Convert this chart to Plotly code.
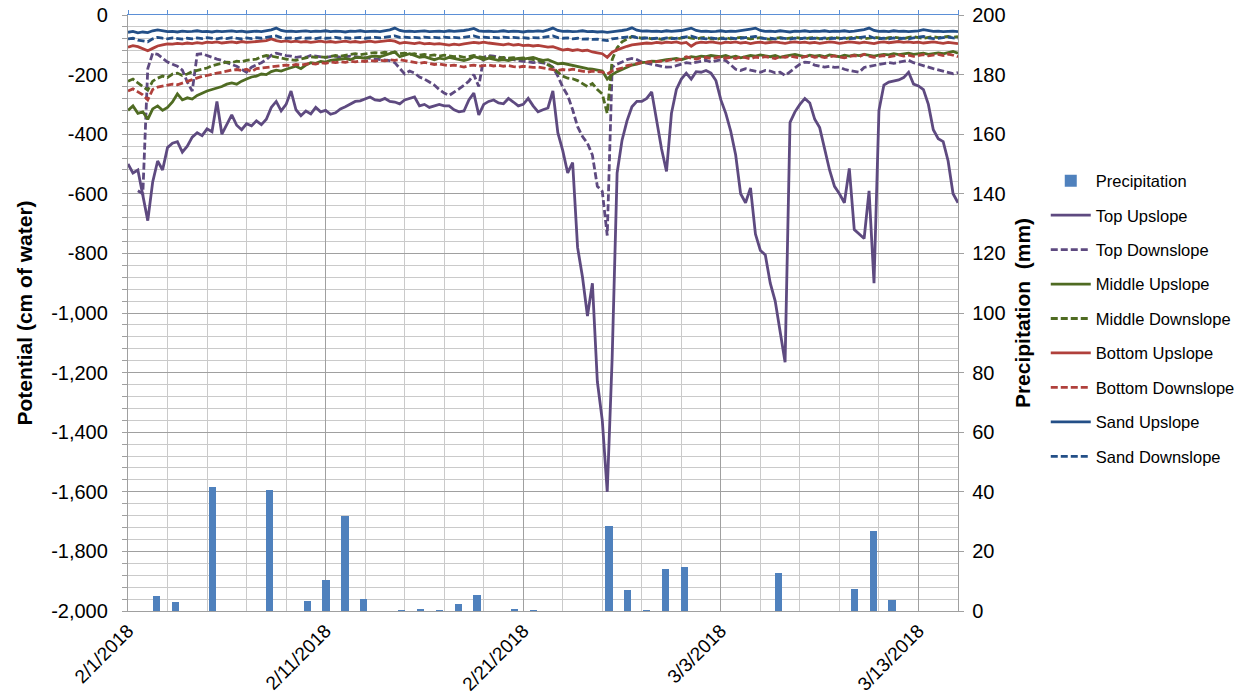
import pandas as pd
import plotly.graph_objects as go

# ---------------------------------------------------------------------------
# Soil water potential (cm of water), logged every 6 hours from 2/1/2018
# ---------------------------------------------------------------------------
times = pd.date_range("2018-02-01 00:00", periods=169, freq="6h")

top_upslope = [
    -500, -530, -520, -610, -690, -560, -490, -520, -445, -430,
    -425, -460, -440, -410, -395, -405, -382, -392, -290, -400,
    -365, -335, -370, -385, -365, -372, -355, -368, -350, -310,
    -290, -322, -300, -255, -318, -338, -322, -332, -310, -325,
    -320, -333, -328, -315, -308, -298, -290, -288, -282, -275,
    -285, -287, -280, -290, -292, -298, -285, -280, -275, -305,
    -300, -310, -306, -300, -305, -305, -318, -325, -322, -285,
    -262, -335, -300, -290, -285, -295, -298, -280, -292, -305,
    -300, -280, -305, -325, -318, -312, -255, -395, -455, -530,
    -495, -780, -880, -1010, -900, -1230, -1360, -1600, -1150, -530,
    -420, -355, -308, -290, -290, -280, -258, -350, -450, -525,
    -330, -250, -215, -195, -215, -190, -192, -186, -195, -220,
    -285, -330, -390, -470, -600, -630, -580, -735, -790, -805,
    -900, -960, -1060, -1165, -360, -325, -300, -280, -295, -350,
    -378, -450, -520, -575, -600, -630, -515, -720, -735, -750,
    -590, -900, -320, -235, -225, -222, -218, -210, -192, -232,
    -238, -250, -300, -385, -415, -425, -490, -600, -630,
]

top_downslope = [
    None, None, -590, -600, -180, -128, -132, -145, -158, -165,
    -172, -185, -225, -255, -132, -130, -135, -142, -148, -152,
    -160, -166, -172, -182, -192, -175, -168, -160, -150, -135,
    -128, -133, -136, -138, -142, -140, -142, -136, -138, -140,
    -142, -140, -138, -142, -140, -138, -140, -142, -144, -145,
    -146, -148, -150, -153, -160, -180, -198, -188, -195, -208,
    -215, -225, -235, -250, -262, -270, -260, -248, -236, -222,
    -200, -240, -142, -136, -138, -142, -145, -148, -150, -152,
    -155, -158, -160, -158, -160, -164, -175, -205, -242, -270,
    -318, -375, -408, -430, -470, -575, -592, -740, -175, -165,
    -158, -150, -146, -150, -158, -162, -166, -170, -172, -175,
    -174, -170, -165, -160, -162, -158, -155, -152, -158, -155,
    -150, -153, -168, -182, -186, -180, -185, -188, -192, -186,
    -188, -194, -192, -203, -190, -175, -165, -158, -160, -168,
    -172, -175, -172, -176, -175, -182, -186, -190, -192, -176,
    -172, -169, -166, -163, -160, -162, -158, -155, -152, -160,
    -165, -172, -176, -180, -184, -188, -192, -197, -193,
]

middle_upslope = [
    -320, -305, -330, -325, -350, -315, -305, -320, -310, -292,
    -265, -285, -278, -282, -270, -262, -255, -250, -245, -240,
    -232, -228, -232, -222, -215, -208, -205, -198, -200, -190,
    -185, -188, -182, -176, -172, -180, -168, -160, -162, -156,
    -158, -152, -150, -148, -146, -150, -143, -142, -145, -140,
    -138, -140, -134, -128, -124, -140, -136, -130, -136, -142,
    -140, -146, -150, -145, -148, -142, -146, -150, -153, -148,
    -140, -144, -150, -145, -148, -152, -150, -153, -148, -146,
    -148, -145, -142, -148, -152, -150, -158, -164, -162, -166,
    -170, -172, -178, -180, -182, -185, -188, -215, -200, -190,
    -182, -175, -168, -165, -160, -158, -155, -156, -152, -150,
    -148, -146, -150, -144, -140, -142, -138, -140, -136, -138,
    -140, -136, -142, -138, -144, -140, -136, -138, -134, -137,
    -140, -136, -142, -138, -134, -132, -136, -140, -135, -138,
    -136, -140, -134, -137, -140, -135, -138, -134, -136, -132,
    -134, -138, -135, -132, -134, -130, -133, -130, -128, -132,
    -130, -128, -132, -130, -127, -130, -126, -122, -128,
]

middle_downslope = [
    -222, -215, -228, -240, -252, -222, -212, -205, -210, -198,
    -195, -203, -198, -190, -186, -182, -178, -170, -165, -162,
    -158, -160, -155, -157, -152, -150, -148, -140, -136, -138,
    -142, -145, -148, -150, -152, -148, -145, -140, -142, -140,
    -142, -138, -136, -138, -135, -132, -130, -133, -130, -128,
    -126, -128, -125, -127, -125, -130, -128, -132, -130, -135,
    -132, -136, -134, -138, -135, -137, -140, -138, -142, -140,
    -136, -140, -143, -140, -142, -145, -142, -145, -143, -146,
    -144, -147, -148, -152, -158, -168, -176, -192, -205, -212,
    -214, -220, -230, -240, -230, -250, -265, -330, -150, -110,
    -90, -80, -72, -75, -78, -76, -80, -78, -82, -79,
    -77, -80, -76, -74, -78, -80, -77, -75, -79, -82,
    -78, -76, -80, -77, -75, -78, -80, -78, -76, -79,
    -82, -78, -76, -80, -78, -75, -78, -80, -77, -76,
    -79, -81, -78, -75, -78, -80, -77, -74, -76, -80,
    -78, -75, -77, -80, -76, -74, -77, -79, -75, -73,
    -76, -78, -75, -73, -76, -74, -72, -75, -73,
]

bottom_upslope = [
    -108, -103, -106, -112, -120, -112, -104, -100, -97, -98,
    -95, -97, -94, -96, -93, -95, -91, -93, -90, -94,
    -92, -90, -93, -89, -92, -90, -88, -87, -86, -80,
    -86, -89, -87, -90, -88, -91, -89, -92, -90, -88,
    -91, -89, -92, -90, -88, -91, -89, -92, -90, -88,
    -91, -89, -87, -85, -88, -95, -92, -94, -96, -93,
    -97, -95, -98, -96, -99, -101, -98, -100, -97, -95,
    -92, -94, -91, -94, -96, -98, -100, -97, -101, -99,
    -103, -101, -104, -102, -105, -108, -106, -112, -118, -115,
    -119, -116, -120, -118, -124, -127, -130, -142, -125, -117,
    -110, -105, -100, -98, -96, -94, -95, -92, -94, -91,
    -93, -90, -95, -92, -105, -94, -91, -93, -90, -92,
    -95, -91, -93, -90, -94, -92, -96, -93, -91, -94,
    -92, -90, -93, -95, -92, -90, -93, -91, -94, -92,
    -95, -93, -90, -92, -95, -93, -90, -92, -94, -91,
    -93, -96, -92, -90, -93, -91, -89, -92, -90, -93,
    -91, -94, -92, -90, -93, -95, -92, -94, -96,
]

bottom_downslope = [
    -255, -248, -258, -268, -285, -250, -242, -238, -236, -232,
    -234, -228, -222, -218, -210, -206, -203, -198, -195, -192,
    -188, -185, -183, -186, -182, -190, -180, -178, -175, -173,
    -172, -170, -168, -170, -166, -168, -164, -162, -165, -160,
    -162, -158, -160, -157, -159, -155, -157, -154, -156, -153,
    -155, -152, -154, -150, -152, -150, -153, -156, -160, -162,
    -159, -163, -166, -164, -167, -170, -168, -172, -175, -170,
    -168, -172, -170, -168, -171, -169, -172, -170, -173, -175,
    -172, -174, -176, -175, -178, -180, -182, -186, -183, -185,
    -182, -186, -190, -192, -188, -190, -192, -198, -188, -182,
    -178, -170, -166, -162, -160, -158, -157, -155, -153, -154,
    -150, -152, -148, -140, -145, -148, -144, -142, -146, -143,
    -140, -145, -142, -146, -140, -143, -147, -141, -144, -140,
    -143, -146, -140, -142, -138, -141, -144, -140, -137, -142,
    -139, -143, -140, -137, -141, -144, -139, -136, -140, -132,
    -138, -142, -139, -136, -140, -137, -134, -138, -135, -139,
    -136, -133, -137, -135, -132, -136, -131, -135, -140,
]

sand_upslope = [
    -58, -55, -60, -57, -59, -53, -50, -54, -56, -55,
    -57, -54, -56, -55, -53, -56, -55, -57, -54, -56,
    -55, -53, -56, -54, -57, -55, -54, -56, -53, -50,
    -44, -52, -55, -54, -56, -55, -53, -56, -54, -55,
    -53, -56, -54, -55, -57, -54, -55, -53, -56, -55,
    -54, -56, -53, -50, -44, -52, -55, -54, -56, -55,
    -53, -56, -55, -54, -56, -53, -55, -54, -52, -49,
    -45, -53, -55, -54, -56, -55, -53, -56, -54, -55,
    -57, -54, -55, -53, -55, -50, -44, -52, -55, -54,
    -56, -55, -53, -56, -55, -57, -56, -58, -55, -54,
    -52, -49, -43, -51, -54, -53, -55, -54, -56, -53,
    -55, -54, -52, -48, -44, -52, -55, -54, -56, -55,
    -53, -56, -54, -55, -53, -51, -47, -44, -52, -55,
    -54, -56, -53, -55, -57, -54, -55, -53, -56, -54,
    -55, -53, -56, -54, -55, -53, -56, -54, -52, -49,
    -44, -52, -55, -54, -56, -53, -55, -54, -56, -55,
    -53, -49, -52, -55, -54, -56, -55, -54, -56,
]

sand_downslope = [
    -80, -78, -84, -88, -90, -80, -75, -78, -80, -77,
    -79, -81, -78, -80, -77, -79, -76, -78, -80, -77,
    -79, -76, -78, -80, -77, -79, -76, -78, -75, -72,
    -70, -76, -78, -77, -79, -76, -78, -77, -79, -76,
    -78, -77, -75, -78, -76, -78, -77, -75, -78, -76,
    -75, -77, -74, -72, -70, -75, -74, -76, -75, -77,
    -74, -76, -75, -77, -74, -76, -75, -77, -74, -72,
    -70, -75, -74, -76, -75, -77, -74, -76, -75, -77,
    -76, -78, -76, -77, -75, -72, -70, -76, -78, -77,
    -80, -78, -81, -80, -82, -81, -83, -86, -80, -78,
    -76, -74, -72, -76, -78, -77, -79, -78, -80, -77,
    -79, -78, -76, -73, -71, -76, -78, -80, -77, -79,
    -78, -80, -77, -79, -78, -76, -73, -72, -77, -79,
    -78, -80, -77, -79, -81, -78, -80, -77, -79, -78,
    -80, -77, -79, -78, -80, -77, -79, -78, -76, -73,
    -71, -77, -79, -78, -80, -77, -79, -78, -80, -77,
    -75, -72, -77, -79, -78, -76, -74, -77, -78,
]

# Daily precipitation (mm)
precip_dates = [
    "2018-02-02", "2018-02-03", "2018-02-05", "2018-02-08", "2018-02-10",
    "2018-02-11", "2018-02-12", "2018-02-13", "2018-02-15", "2018-02-16",
    "2018-02-17", "2018-02-18", "2018-02-19", "2018-02-21", "2018-02-22",
    "2018-02-26", "2018-02-27", "2018-02-28", "2018-03-01", "2018-03-02",
    "2018-03-07", "2018-03-11", "2018-03-12", "2018-03-13",
]
precip_mm = [
    5.1, 3.1, 41.7, 40.7, 3.4,
    10.5, 31.8, 3.9, 0.3, 0.7,
    0.3, 2.4, 5.4, 0.4, 0.3,
    28.5, 7.0, 0.2, 14.2, 14.6,
    12.8, 7.5, 27.0, 3.7,
]

y_tick_vals = [0, -200, -400, -600, -800, -1000, -1200, -1400, -1600, -1800, -2000]
y_tick_text = ["0", "-200", "-400", "-600", "-800", "-1,000", "-1,200",
               "-1,400", "-1,600", "-1,800", "-2,000"]

DAY_MS = 86400000
FONT = "Liberation Sans, Arial, sans-serif"

PURPLE = "#5E4A80"
GREEN = "#4F6B22"
RED = "#B0403B"
NAVY = "#234F87"
BAR = "#4F81BD"
DASH = "7px,3px"
LINE_W = 2.8

series = [
    ("Top Upslope", top_upslope, PURPLE, "solid"),
    ("Top Downslope", top_downslope, PURPLE, DASH),
    ("Middle Upslope", middle_upslope, GREEN, "solid"),
    ("Middle Downslope", middle_downslope, GREEN, DASH),
    ("Bottom Upslope", bottom_upslope, RED, "solid"),
    ("Bottom Downslope", bottom_downslope, RED, DASH),
    ("Sand Upslope", sand_upslope, NAVY, "solid"),
    ("Sand Downslope", sand_downslope, NAVY, DASH),
]

fig = go.Figure()

# precipitation bars on their own daily axis, centred in each day's slot
fig.add_trace(go.Bar(
    x=pd.to_datetime(precip_dates) + pd.Timedelta(hours=12),
    y=precip_mm,
    name="Precipitation",
    marker=dict(color=BAR, line=dict(width=0)),
    width=0.38 * DAY_MS,
    xaxis="x2", yaxis="y2",
    legendgroup="p",
))

for name, vals, color, dash in series:
    fig.add_trace(go.Scatter(
        x=times, y=vals, name=name, mode="lines",
        line=dict(color=color, width=LINE_W, dash=dash),
        connectgaps=False,
        legendgroup=name,
    ))

# the top rule of the chart carries the 2-day ticks
fig.add_trace(go.Scatter(
    x=[times[0], times[-1]], y=[None, None], mode="lines",
    xaxis="x3", yaxis="y", showlegend=False, hoverinfo="skip",
))

fig.update_layout(
    width=1242, height=698,
    margin=dict(l=128, r=284, t=15, b=87, autoexpand=False),
    paper_bgcolor="white", plot_bgcolor="white",
    font=dict(family=FONT, size=20, color="#000000"),
    bargap=0,
    xaxis=dict(
        type="date", automargin=False,
        range=["2018-02-01", "2018-03-15"],
        tick0="2018-02-01", dtick=10 * DAY_MS,
        tickformat="%-m/%-d/%Y", tickangle=-45,
        tickfont=dict(size=19),
        showgrid=True, gridcolor="#A0A0A0", gridwidth=1.3,
        minor=dict(dtick=2 * DAY_MS, tick0="2018-02-01", showgrid=True,
                   gridcolor="#CACACA", gridwidth=1.3),
        showline=True, linecolor="#A0A0A0", linewidth=1.3,
        ticks="", ticklabelstandoff=0,
        zeroline=False,
    ),
    xaxis2=dict(
        type="date", overlaying="x", anchor="y2", automargin=False,
        range=["2018-02-01", "2018-03-17"],
        visible=False,
    ),
    xaxis3=dict(
        type="date", overlaying="x", side="top", anchor="y", automargin=False,
        range=["2018-02-01", "2018-03-15"],
        tick0="2018-02-01", dtick=2 * DAY_MS,
        showticklabels=False, showgrid=False,
        showline=True, linecolor="#5B8FD6", linewidth=1.3,
        ticks="outside", ticklen=4, tickcolor="#5B8FD6",
        zeroline=False,
    ),
    yaxis=dict(
        range=[-2000, 0], automargin=False,
        tickvals=y_tick_vals, ticktext=y_tick_text,
        tickfont=dict(size=20),
        showgrid=True, gridcolor="#A0A0A0", gridwidth=1.3,
        minor=dict(dtick=40, tick0=0, showgrid=True, gridcolor="#CACACA",
                   gridwidth=1.3, ticks="outside", ticklen=5,
                   tickcolor="#A0A0A0"),
        showline=True, linecolor="#A0A0A0", linewidth=1.3,
        ticks="outside", ticklen=5, tickcolor="#A0A0A0",
        ticklabelstandoff=10,
        zeroline=False,
        title=dict(text="<b>Potential (cm of water)</b>",
                   font=dict(size=21), standoff=12),
    ),
    yaxis2=dict(
        range=[0, 200], dtick=20, overlaying="y", side="right",
        anchor="x", automargin=False,
        tickfont=dict(size=20),
        showgrid=False, zeroline=False,
        showline=True, linecolor="#A0A0A0", linewidth=1.3,
        ticks="outside", ticklen=5, tickcolor="#A0A0A0",
        ticklabelstandoff=4,
        title=dict(text="<b>Precipitation  (mm)</b>",
                   font=dict(size=21), standoff=10),
    ),
    legend=dict(
        xref="container", x=0.842, xanchor="left",
        y=0.49, yanchor="middle",
        font=dict(size=16.5), tracegroupgap=10,
        bgcolor="rgba(0,0,0,0)", itemwidth=40,
    ),
    showlegend=True,
)

fig.write_html("out.html")
